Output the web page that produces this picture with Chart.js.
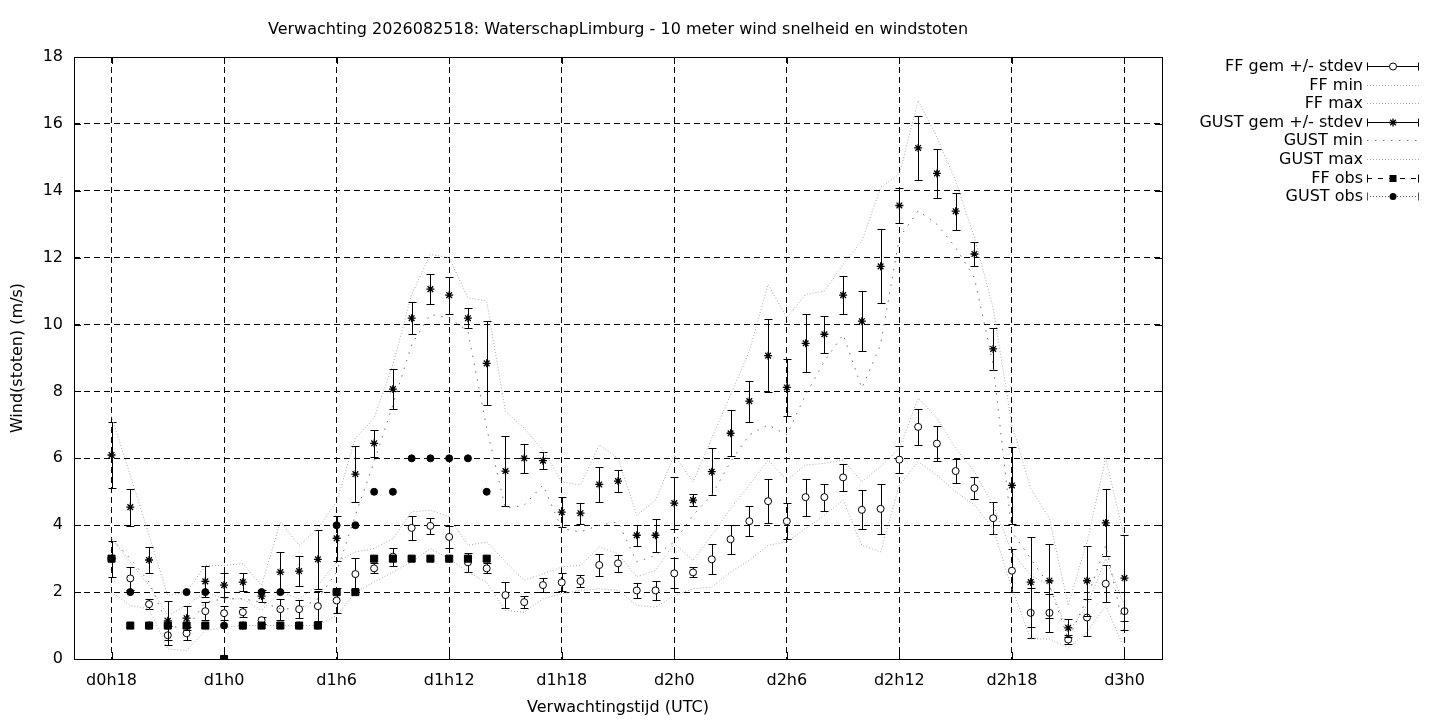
<!DOCTYPE html>
<html>
<head>
<meta charset="utf-8">
<title>Wind verwachting</title>
<script src="https://cdn.jsdelivr.net/npm/chart.js@4.4.1/dist/chart.umd.min.js"></script>
<style>
  html, body { margin: 0; padding: 0; background: #fff; }
  canvas { display: block; }
</style>
</head>
<body>
<canvas id="windChart" width="1440" height="720"></canvas>
<script>
// forecast hours since d0h0 (one point per hour, d0h18 .. d3h0)
const hours = [18, 19, 20, 21, 22, 23, 24, 25, 26, 27, 28, 29, 30, 31, 32, 33, 34, 35, 36, 37, 38, 39, 40, 41, 42, 43, 44, 45, 46, 47, 48, 49, 50, 51, 52, 53, 54, 55, 56, 57, 58, 59, 60, 61, 62, 63, 64, 65, 66, 67, 68, 69, 70, 71, 72];

const tickHours = [18, 24, 30, 36, 42, 48, 54, 60, 66, 72];
const tickLabels = ['d0h18', 'd1h0', 'd1h6', 'd1h12', 'd1h18', 'd2h0', 'd2h6', 'd2h12', 'd2h18', 'd3h0'];

const ffMean = [3.0, 2.41, 1.64, 0.71, 0.77, 1.43, 1.37, 1.40, 1.16, 1.49, 1.49, 1.58, 1.75, 2.54, 2.71, 3.06, 3.92, 3.98, 3.65, 2.89, 2.71, 1.91, 1.70, 2.21, 2.29, 2.33, 2.81, 2.86, 2.05, 2.05, 2.56, 2.59, 2.98, 3.58, 4.12, 4.72, 4.12, 4.84, 4.84, 5.43, 4.46, 4.49, 5.96, 6.94, 6.44, 5.62, 5.11, 4.21, 2.64, 1.38, 1.38, 0.58, 1.24, 2.25, 1.43];
const ffSd = [0.54, 0.34, 0.15, 0.28, 0.20, 0.27, 0.20, 0.15, 0.10, 0.31, 0.27, 0.44, 0.38, 0.48, 0.15, 0.27, 0.36, 0.25, 0.32, 0.28, 0.15, 0.40, 0.17, 0.22, 0.27, 0.18, 0.32, 0.25, 0.22, 0.29, 0.45, 0.15, 0.45, 0.43, 0.44, 0.66, 0.54, 0.55, 0.40, 0.40, 0.58, 0.74, 0.40, 0.55, 0.52, 0.37, 0.32, 0.48, 0.65, 0.74, 0.57, 0.14, 0.56, 0.56, 0.57];
const ffMin = [2.0, 1.6, 1.5, 0.3, 0.25, 0.85, 0.95, 1.0, 1.0, 1.0, 1.0, 1.0, 1.3, 2.0, 2.3, 2.6, 2.9, 3.3, 3.0, 2.6, 2.3, 1.45, 1.4, 1.8, 1.95, 2.05, 2.1, 2.05, 1.6, 1.55, 1.9, 2.1, 2.15, 2.6, 2.95, 3.4, 3.5, 3.9, 4.3, 4.75, 3.4, 3.2, 5.2, 5.9, 5.5, 5.0, 4.6, 3.9, 2.1, 0.6, 0.6, 0.33, 0.8, 1.6, 0.3];
const ffMax = [3.6, 2.9, 2.2, 1.3, 1.6, 2.0, 1.8, 1.8, 1.45, 2.0, 1.8, 2.2, 2.9, 3.2, 3.3, 3.6, 4.4, 4.45, 4.25, 3.4, 3.5, 2.9, 2.35, 2.55, 2.75, 2.8, 3.35, 3.15, 2.45, 2.65, 3.45, 2.95, 3.7, 4.5, 5.2, 5.95, 5.35, 5.8, 5.85, 5.95, 5.3, 5.75, 6.3, 7.8, 7.2, 6.3, 5.6, 4.6, 3.2, 2.5, 2.2, 0.8, 1.6, 3.0, 1.6];

const gustMean = [6.1, 4.54, 2.96, 1.14, 1.22, 2.32, 2.21, 2.30, 1.88, 2.60, 2.63, 2.98, 3.61, 5.53, 6.45, 8.07, 10.19, 11.06, 10.88, 10.19, 8.84, 5.62, 6.0, 5.93, 4.39, 4.36, 5.22, 5.32, 3.70, 3.70, 4.66, 4.75, 5.60, 6.75, 7.71, 9.07, 8.12, 9.44, 9.71, 10.88, 10.10, 11.74, 13.56, 15.28, 14.52, 13.39, 12.11, 9.27, 5.19, 2.30, 2.34, 0.93, 2.34, 4.07, 2.42];
const gustSd = [1.0, 0.55, 0.39, 0.58, 0.36, 0.46, 0.35, 0.28, 0.18, 0.59, 0.46, 0.88, 0.68, 0.83, 0.40, 0.60, 0.48, 0.46, 0.55, 0.30, 1.26, 1.04, 0.43, 0.26, 0.44, 0.31, 0.53, 0.33, 0.32, 0.50, 0.77, 0.17, 0.71, 0.69, 0.61, 1.09, 0.86, 0.87, 0.55, 0.56, 0.90, 1.11, 0.51, 0.96, 0.73, 0.55, 0.35, 0.62, 1.16, 1.35, 1.10, 0.27, 1.04, 1.0, 1.29];
const gustMin = [3.6, 3.0, 2.3, 1.0, 0.9, 1.7, 1.8, 1.8, 1.7, 1.5, 1.5, 1.8, 2.6, 4.3, 5.9, 7.6, 9.4, 10.3, 10.2, 9.8, 6.9, 4.5, 4.6, 5.2, 3.9, 3.8, 4.0, 4.1, 2.9, 3.1, 3.5, 4.3, 4.9, 5.9, 6.7, 7.0, 6.7, 7.9, 8.9, 9.7, 8.1, 9.4, 12.6, 13.4, 13.0, 12.3, 11.4, 8.8, 3.8, 3.0, 2.2, 0.6, 1.8, 3.4, 0.8];
const gustMax = [7.25, 5.5, 3.7, 1.9, 2.0, 2.8, 2.8, 2.85, 2.2, 4.1, 3.4, 3.9, 4.7, 6.6, 7.2, 8.8, 10.9, 12.1, 12.0, 10.8, 10.7, 7.4, 6.9, 6.25, 5.3, 5.2, 6.4, 6.0, 4.3, 4.75, 6.1, 5.3, 6.6, 7.9, 9.2, 11.2, 10.2, 10.9, 11.0, 11.8, 12.5, 14.1, 14.5, 16.7, 15.6, 14.3, 12.6, 10.5, 7.0, 5.1, 4.2, 1.6, 3.5, 6.0, 3.6];

// observations only exist up to d1h14
const obsHours = [18, 19, 20, 21, 22, 23, 24, 25, 26, 27, 28, 29, 30, 31, 32, 33, 34, 35, 36, 37, 38];
const ffObs = [3, 1, 1, 1, 1, 1, 0, 1, 1, 1, 1, 1, 2, 2, 3, 3, 3, 3, 3, 3, 3];
const gustObs = [3, 2, 1, 1, 2, 2, 1, 1, 2, 2, 1, 1, 4, 4, 5, 5, 6, 6, 6, 6, 5];

const FONT = '"DejaVu Sans", "Liberation Sans", sans-serif';
const font = { family: FONT, size: 16 };
const titleText = 'Verwachting 2026082518: WaterschapLimburg - 10 meter wind snelheid en windstoten';

const pts = (xs, ys) => xs.map((h, i) => ({ x: h, y: ys[i] }));

const legendItems = [
  { text: 'FF gem +/- stdev', kind: 'errbar', marker: 'circle' },
  { text: 'FF min', kind: 'line', color: '#a8a8a8', dash: [1, 2] },
  { text: 'FF max', kind: 'line', color: '#a8a8a8', dash: [1, 2] },
  { text: 'GUST gem +/- stdev', kind: 'errbar', marker: 'star' },
  { text: 'GUST min', kind: 'line', color: '#707070', dash: [1.5, 6.5] },
  { text: 'GUST max', kind: 'line', color: '#a8a8a8', dash: [1, 2] },
  { text: 'FF obs', kind: 'obs', marker: 'square', color: '#000', dash: [5, 6] },
  { text: 'GUST obs', kind: 'obs', marker: 'dot', color: '#555', dash: [1, 2] }
];

function drawMarker(ctx, type, x, y) {
  ctx.save();
  ctx.setLineDash([]);
  ctx.lineWidth = 1;
  ctx.strokeStyle = '#000';
  ctx.fillStyle = '#000';
  ctx.beginPath();
  if (type === 'circle') {
    ctx.fillStyle = '#fff';
    ctx.arc(x, y, 3.5, 0, Math.PI * 2);
    ctx.fill();
    ctx.stroke();
  } else if (type === 'star') {
    const r = 4, d = r * Math.SQRT1_2;
    ctx.lineWidth = 1.3;
    ctx.moveTo(x - r, y); ctx.lineTo(x + r, y);
    ctx.moveTo(x, y - r); ctx.lineTo(x, y + r);
    ctx.moveTo(x - d, y - d); ctx.lineTo(x + d, y + d);
    ctx.moveTo(x - d, y + d); ctx.lineTo(x + d, y - d);
    ctx.stroke();
  } else if (type === 'square') {
    ctx.fillRect(x - 3.5, y - 3.5, 7, 7);
  } else if (type === 'dot') {
    ctx.arc(x, y, 3.5, 0, Math.PI * 2);
    ctx.fill();
  }
  ctx.restore();
}

function drawErrorBars(chart, mean, sd) {
  const { ctx, scales: { x, y } } = chart;
  ctx.save();
  ctx.strokeStyle = '#000';
  ctx.lineWidth = 1;
  hours.forEach((h, i) => {
    const px = Math.round(x.getPixelForValue(h)) + 0.5;
    const top = Math.round(y.getPixelForValue(mean[i] + sd[i])) + 0.5;
    const bot = Math.round(y.getPixelForValue(mean[i] - sd[i])) + 0.5;
    ctx.beginPath();
    ctx.moveTo(px, top); ctx.lineTo(px, bot);
    ctx.moveTo(px - 4, top); ctx.lineTo(px + 4, top);
    ctx.moveTo(px - 4, bot); ctx.lineTo(px + 4, bot);
    ctx.stroke();
  });
  ctx.restore();
}

const gnuplotLook = {
  id: 'gnuplotLook',
  beforeDatasetsDraw(chart) {
    // solid frame with inward tick marks
    const { ctx, chartArea: a, scales: { x, y } } = chart;
    ctx.save();
    ctx.strokeStyle = '#000';
    ctx.lineWidth = 1;
    ctx.strokeRect(Math.round(a.left) + 0.5, Math.round(a.top) + 0.5, Math.round(a.right - a.left), Math.round(a.bottom - a.top));
    ctx.beginPath();
    tickHours.forEach(h => {
      const px = Math.round(x.getPixelForValue(h)) + 0.5;
      ctx.moveTo(px, a.bottom); ctx.lineTo(px, a.bottom - 7);
      ctx.moveTo(px, a.top); ctx.lineTo(px, a.top + 7);
    });
    y.ticks.forEach(t => {
      const py = Math.round(y.getPixelForValue(t.value)) + 0.5;
      ctx.moveTo(a.left, py); ctx.lineTo(a.left + 7, py);
      ctx.moveTo(a.right, py); ctx.lineTo(a.right - 7, py);
    });
    ctx.stroke();
    ctx.restore();
  },
  beforeDatasetDraw(chart, args) {
    const id = chart.data.datasets[args.index].id;
    if (id === 'ffGem') drawErrorBars(chart, ffMean, ffSd);
    if (id === 'gustGem') drawErrorBars(chart, gustMean, gustSd);
  },
  afterDraw(chart) {
    const { ctx, chartArea: a } = chart;
    ctx.save();
    ctx.fillStyle = '#000';
    ctx.font = '16px ' + FONT;
    ctx.textAlign = 'center';
    ctx.textBaseline = 'middle';
    ctx.fillText(titleText, (a.left + a.right) / 2, 30);

    // key, top right, gnuplot style: text right aligned, sample to the right
    const textRight = 1363, x1 = 1367, x2 = 1419;
    legendItems.forEach((item, i) => {
      const ly = Math.round(66 + i * 18.6) + 0.5;
      ctx.textAlign = 'right';
      ctx.fillStyle = '#000';
      ctx.fillText(item.text, textRight, ly);
      ctx.beginPath();
      if (item.kind === 'errbar') {
        ctx.strokeStyle = '#000';
        ctx.setLineDash([]);
        ctx.moveTo(x1, ly); ctx.lineTo(x2, ly);
        ctx.moveTo(x1 + 0.5, ly - 4); ctx.lineTo(x1 + 0.5, ly + 4);
        ctx.moveTo(x2 - 0.5, ly - 4); ctx.lineTo(x2 - 0.5, ly + 4);
        ctx.stroke();
        drawMarker(ctx, item.marker, (x1 + x2) / 2, ly);
      } else {
        ctx.strokeStyle = item.color;
        ctx.setLineDash(item.dash);
        ctx.moveTo(x1, ly); ctx.lineTo(x2, ly);
        ctx.stroke();
        if (item.kind === 'obs') {
          ctx.setLineDash([]);
          ctx.beginPath();
          ctx.strokeStyle = item.color;
          ctx.moveTo(x2 - 0.5, ly - 4); ctx.lineTo(x2 - 0.5, ly + 4);
          ctx.moveTo(x1 + 0.5, ly - 4); ctx.lineTo(x1 + 0.5, ly + 4);
          ctx.stroke();
          drawMarker(ctx, item.marker, (x1 + x2) / 2, ly);
        }
      }
      ctx.setLineDash([]);
    });
    ctx.restore();
  }
};

function markerSet(id, label, data, style, radius, fill, order, width) {
  return {
    id, label, data, order,
    showLine: false,
    pointStyle: style,
    pointRadius: radius,
    pointBorderWidth: width || 1,
    pointBorderColor: '#000',
    pointBackgroundColor: fill
  };
}

function rangeLine(label, data, color, dash, order) {
  return {
    label, data, order,
    borderColor: color,
    borderWidth: 1,
    borderDash: dash,
    pointRadius: 0,
    tension: 0,
    fill: false
  };
}

const ctx = document.getElementById('windChart').getContext('2d');
new Chart(ctx, {
  type: 'line',
  data: {
    datasets: [
      markerSet('ffGem', 'FF gem +/- stdev', pts(hours, ffMean), 'circle', 3.5, '#fff', 8),
      rangeLine('FF min', pts(hours, ffMin), '#a8a8a8', [1, 2], 7),
      rangeLine('FF max', pts(hours, ffMax), '#a8a8a8', [1, 2], 6),
      markerSet('gustGem', 'GUST gem +/- stdev', pts(hours, gustMean), 'star', 4, '#000', 5, 1.3),
      rangeLine('GUST min', pts(hours, gustMin), '#707070', [1.5, 6.5], 4),
      rangeLine('GUST max', pts(hours, gustMax), '#a8a8a8', [1, 2], 3),
      markerSet('ffObs', 'FF obs', pts(obsHours, ffObs), 'rect', 5, '#000', 2),
      markerSet('gustObs', 'GUST obs', pts(obsHours, gustObs), 'circle', 3.5, '#000', 1)
    ]
  },
  options: {
    responsive: false,
    animation: false,
    devicePixelRatio: 1,
    layout: { padding: { left: 0, right: 278, top: 57, bottom: 0 } },
    plugins: {
      legend: { display: false },
      title: { display: false },
      tooltip: { enabled: false }
    },
    scales: {
      x: {
        type: 'linear',
        min: 16,
        max: 74,
        afterBuildTicks: scale => { scale.ticks = tickHours.map(v => ({ value: v })); },
        afterFit: scale => { scale.height = 61; },
        ticks: {
          font, color: '#000', padding: 12, maxRotation: 0, autoSkip: false,
          callback: value => tickLabels[tickHours.indexOf(value)]
        },
        grid: { color: '#000', lineWidth: 1, drawTicks: false },
        border: { display: false, dash: [6, 4] },
        title: { display: true, text: 'Verwachtingstijd (UTC)', font, color: '#000', padding: { top: 0, bottom: 3 } }
      },
      y: {
        min: 0,
        max: 18,
        afterFit: scale => { scale.width = 74; },
        ticks: { stepSize: 2, font, color: '#000', padding: 11 },
        grid: { color: '#000', lineWidth: 1, drawTicks: false },
        border: { display: false, dash: [6, 4] },
        title: { display: true, text: 'Wind(stoten) (m/s)', font, color: '#000', padding: { top: 8, bottom: 0 } }
      }
    }
  },
  plugins: [gnuplotLook]
});
</script>
</body>
</html>
